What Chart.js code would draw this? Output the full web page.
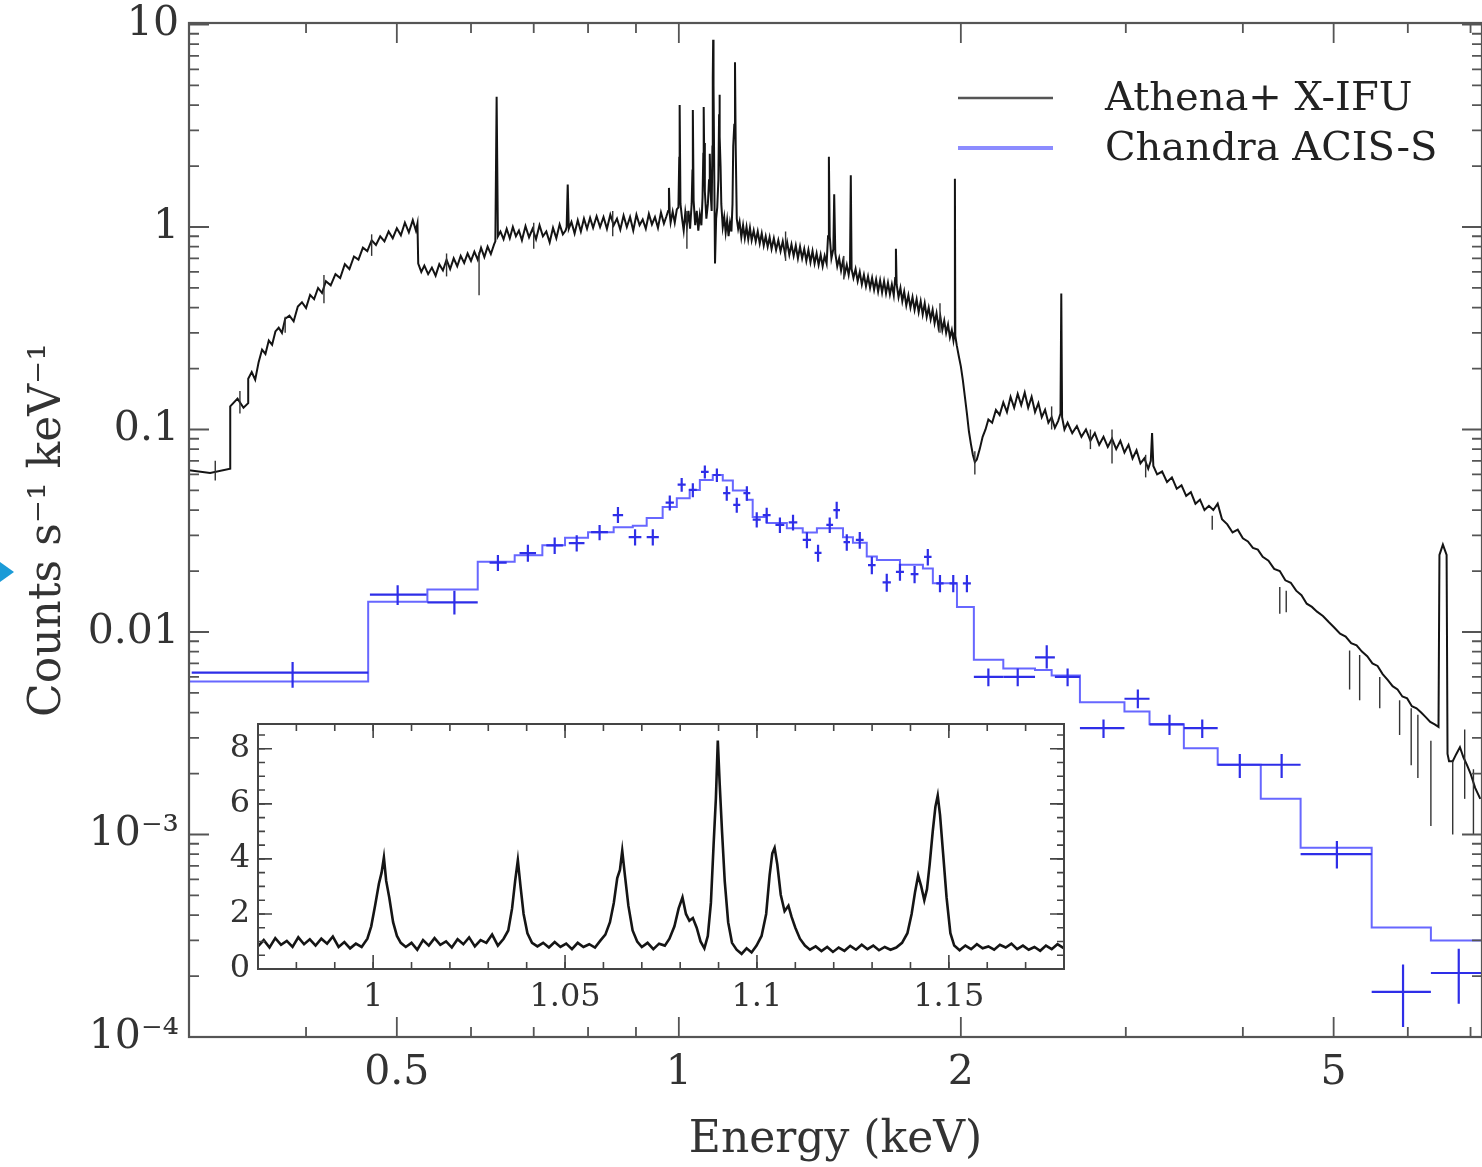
<!DOCTYPE html>
<html>
<head>
<meta charset="utf-8">
<script src="https://cdn.jsdelivr.net/npm/chart.js"></script>
<style>
  html, body { margin: 0; padding: 0; background: #fff; }
  #wrap { position: relative; width: 1482px; height: 1167px; overflow: hidden; }
  #mainChart { position: absolute; left: 0; top: 0; }
  #insetChart { position: absolute; left: 200px; top: 700px; }
  #marker { position: absolute; left: 0; top: 562px; width: 0; height: 0;
            border-top: 10px solid transparent; border-bottom: 10px solid transparent;
            border-left: 14px solid #1b9bd7; }
</style>
</head>
<body>
<div id="wrap">
  <canvas id="mainChart" width="1482" height="1167"></canvas>
  <canvas id="insetChart" width="880" height="330"></canvas>
  <div id="marker"></div>
</div>
<script>
// Athena+ X-IFU spectrum, energy (keV) and counts s^-1 keV^-1
const athenaE = [
  0.300, 0.316, 0.332, 0.332, 0.338, 0.343, 0.347, 0.347,
  0.350, 0.353, 0.356, 0.359, 0.362, 0.365, 0.368, 0.371, 0.374, 0.377,
  0.380, 0.384, 0.388, 0.392, 0.396, 0.400, 0.404, 0.408, 0.412, 0.416,
  0.420, 0.425, 0.430, 0.435, 0.440, 0.445, 0.450, 0.455, 0.460, 0.465,
  0.470, 0.475, 0.480, 0.485, 0.490, 0.495, 0.500, 0.505, 0.510, 0.515,
  0.520, 0.524, 0.526, 0.527, 0.531, 0.535, 0.540, 0.545, 0.550, 0.555,
  0.560, 0.565, 0.570, 0.575, 0.580, 0.585, 0.590, 0.595, 0.600, 0.605,
  0.610, 0.615, 0.620, 0.625, 0.630, 0.635, 0.637, 0.639, 0.641, 0.645,
  0.650, 0.655, 0.660, 0.665, 0.670, 0.675, 0.680, 0.686, 0.692, 0.698,
  0.704, 0.710, 0.716, 0.722, 0.728, 0.734, 0.740, 0.746, 0.752, 0.757,
  0.759, 0.761, 0.763, 0.768, 0.774, 0.780, 0.786, 0.792, 0.798, 0.804,
  0.810, 0.817, 0.824, 0.831, 0.838, 0.845, 0.852, 0.859, 0.866, 0.873,
  0.880, 0.887, 0.894, 0.901, 0.908, 0.915, 0.922, 0.929, 0.936, 0.943,
  0.950, 0.957, 0.964, 0.970, 0.974, 0.976, 0.978, 0.980, 0.985, 0.990,
  0.995, 0.999, 1.001, 1.002, 1.004, 1.008, 1.012, 1.016, 1.020, 1.024,
  1.028, 1.032, 1.034, 1.035, 1.037, 1.041, 1.045, 1.049, 1.053, 1.057,
  1.060, 1.062, 1.063, 1.064, 1.066, 1.070, 1.074, 1.077, 1.079, 1.081,
  1.084, 1.086, 1.087, 1.088, 1.089, 1.091, 1.093, 1.096, 1.099, 1.102,
  1.104, 1.105, 1.106, 1.108, 1.110, 1.114, 1.118, 1.122, 1.126, 1.130,
  1.134, 1.138, 1.141, 1.143, 1.146, 1.148, 1.150, 1.153, 1.157, 1.161,
  1.166, 1.171, 1.176, 1.181, 1.186, 1.191, 1.196, 1.202, 1.208, 1.214,
  1.220, 1.226, 1.232, 1.238, 1.244, 1.250, 1.256, 1.263, 1.270, 1.277,
  1.284, 1.291, 1.298, 1.305, 1.312, 1.319, 1.326, 1.333, 1.340, 1.347,
  1.354, 1.361, 1.368, 1.375, 1.382, 1.389, 1.396, 1.403, 1.410, 1.417,
  1.424, 1.431, 1.438, 1.443, 1.446, 1.449, 1.455, 1.462, 1.465, 1.469,
  1.476, 1.483, 1.490, 1.497, 1.504, 1.511, 1.518, 1.523, 1.526, 1.529,
  1.536, 1.544, 1.552, 1.560, 1.568, 1.576, 1.584, 1.592, 1.600, 1.608,
  1.616, 1.624, 1.632, 1.640, 1.648, 1.656, 1.664, 1.672, 1.680, 1.688,
  1.696, 1.702, 1.705, 1.708, 1.716, 1.724, 1.732, 1.740, 1.749, 1.758,
  1.767, 1.776, 1.785, 1.794, 1.803, 1.812, 1.821, 1.830, 1.839, 1.848,
  1.857, 1.866, 1.875, 1.884, 1.893, 1.902, 1.911, 1.920, 1.929, 1.938,
  1.947, 1.956, 1.964, 1.969, 1.971, 1.973, 1.980, 1.990, 2.000, 2.010,
  2.020, 2.030, 2.040, 2.050, 2.060, 2.070, 2.080, 2.095, 2.110, 2.125,
  2.140, 2.160, 2.180, 2.200, 2.220, 2.240, 2.260, 2.280, 2.300, 2.320,
  2.340, 2.360, 2.380, 2.400, 2.420, 2.440, 2.460, 2.480, 2.500, 2.520,
  2.540, 2.555, 2.560, 2.565, 2.580, 2.600, 2.630, 2.660, 2.690, 2.720,
  2.750, 2.780, 2.810, 2.840, 2.870, 2.900, 2.930, 2.960, 2.990, 3.020,
  3.050, 3.080, 3.110, 3.140, 3.170, 3.190, 3.200, 3.210, 3.240, 3.280,
  3.320, 3.360, 3.400, 3.440, 3.480, 3.520, 3.560, 3.600, 3.640, 3.680,
  3.720, 3.760, 3.800, 3.850, 3.900, 3.950, 4.000, 4.050, 4.100, 4.150,
  4.200, 4.260, 4.320, 4.380, 4.440, 4.500, 4.560, 4.620, 4.680, 4.740,
  4.800, 4.870, 4.940, 5.010, 5.080, 5.150, 5.220, 5.290, 5.360, 5.430,
  5.500, 5.570, 5.640, 5.710, 5.780, 5.850, 5.920, 5.990, 6.060, 6.130,
  6.200, 6.270, 6.340, 6.410, 6.470, 6.485, 6.540, 6.600, 6.615, 6.640,
  6.700, 6.760, 6.820, 6.880, 6.940, 7.000, 7.080, 7.170
];
const athenaRate = [
  0.063, 0.061, 0.064, 0.130, 0.142, 0.128, 0.135, 0.178,
  0.192, 0.176, 0.215, 0.248, 0.236, 0.275, 0.262, 0.305, 0.318, 0.300,
  0.352, 0.365, 0.342, 0.405, 0.425, 0.398, 0.462, 0.440, 0.500, 0.472,
  0.540, 0.515, 0.585, 0.560, 0.655, 0.620, 0.715, 0.690, 0.790, 0.760,
  0.860, 0.815, 0.900, 0.850, 0.950, 0.880, 0.985, 0.910, 1.050, 0.940,
  1.080, 0.960, 1.040, 0.660, 0.600, 0.645, 0.585, 0.630, 0.575, 0.655,
  0.610, 0.690, 0.620, 0.700, 0.640, 0.720, 0.665, 0.740, 0.680, 0.755,
  0.690, 0.790, 0.710, 0.800, 0.735, 0.820, 0.850, 4.400, 0.900, 0.950,
  0.870, 0.980, 0.880, 1.000, 0.900, 0.960, 0.860, 1.010, 0.890, 0.980,
  0.870, 1.020, 0.900, 0.950, 0.840, 0.990, 0.880, 1.030, 0.920, 0.960,
  1.000, 1.620, 0.980, 1.060, 0.930, 1.080, 0.950, 1.100, 0.980, 1.110,
  0.990, 1.130, 1.000, 1.120, 0.980, 1.150, 1.020, 1.100, 0.970, 1.140,
  1.000, 1.120, 0.960, 1.150, 1.020, 1.090, 0.980, 1.160, 1.030, 1.120,
  0.990, 1.180, 1.040, 1.130, 1.200, 1.560, 1.150, 1.050, 1.190, 1.050,
  1.220, 1.250, 2.200, 4.000, 1.300, 1.100, 0.960, 1.180, 1.020, 1.200,
  0.980, 1.300, 1.900, 3.780, 1.350, 1.020, 1.200, 0.960, 1.150, 1.020,
  1.400, 2.300, 3.910, 2.600, 1.500, 1.100, 1.300, 1.700, 2.300, 1.500,
  1.200, 2.500, 5.500, 8.400, 5.000, 1.800, 0.660, 1.100, 1.250, 1.700,
  3.600, 4.500, 2.800, 2.000, 1.300, 1.000, 1.120, 0.940, 1.080, 0.900,
  1.050, 0.950, 1.300, 2.500, 3.200, 6.500, 2.500, 1.100, 0.980, 1.060,
  0.890, 1.020, 0.880, 1.000, 0.870, 0.990, 0.860, 0.960, 0.850, 0.950,
  0.830, 0.930, 0.810, 0.900, 0.800, 0.890, 0.780, 0.880, 0.770, 0.860,
  0.760, 0.850, 0.740, 0.840, 0.730, 0.820, 0.720, 0.810, 0.700, 0.800,
  0.700, 0.780, 0.680, 0.770, 0.670, 0.760, 0.660, 0.740, 0.650, 0.730,
  0.640, 0.720, 0.660, 0.900, 2.220, 0.900, 0.700, 0.780, 1.450, 0.740,
  0.640, 0.700, 0.610, 0.680, 0.590, 0.650, 0.580, 0.640, 1.800, 0.620,
  0.560, 0.620, 0.540, 0.600, 0.520, 0.580, 0.510, 0.570, 0.500, 0.560,
  0.490, 0.550, 0.480, 0.545, 0.475, 0.540, 0.470, 0.530, 0.465, 0.520,
  0.460, 0.560, 0.780, 0.520, 0.450, 0.500, 0.430, 0.480, 0.410, 0.460,
  0.400, 0.450, 0.390, 0.440, 0.380, 0.430, 0.370, 0.420, 0.360, 0.400,
  0.350, 0.390, 0.335, 0.375, 0.320, 0.360, 0.310, 0.345, 0.300, 0.330,
  0.285, 0.310, 0.275, 0.300, 1.730, 0.290, 0.260, 0.230, 0.205, 0.175,
  0.145, 0.120, 0.098, 0.085, 0.075, 0.069, 0.071, 0.080, 0.092, 0.100,
  0.112, 0.108, 0.125, 0.118, 0.136, 0.122, 0.145, 0.128, 0.150, 0.132,
  0.152, 0.128, 0.145, 0.122, 0.135, 0.115, 0.125, 0.108, 0.115, 0.102,
  0.110, 0.120, 0.470, 0.115, 0.100, 0.108, 0.096, 0.104, 0.092, 0.100,
  0.088, 0.096, 0.084, 0.092, 0.082, 0.090, 0.080, 0.088, 0.077, 0.084,
  0.072, 0.079, 0.068, 0.072, 0.064, 0.070, 0.096, 0.066, 0.060, 0.062,
  0.055, 0.058, 0.051, 0.053, 0.047, 0.049, 0.043, 0.045, 0.040, 0.042,
  0.040, 0.043, 0.036, 0.034, 0.031, 0.032, 0.029, 0.028, 0.026, 0.0255,
  0.0235, 0.0225, 0.0205, 0.0200, 0.0180, 0.0175, 0.0160, 0.0152, 0.0138, 0.0133,
  0.0126, 0.0120, 0.0112, 0.0105, 0.0098, 0.0095, 0.0088, 0.0086, 0.0080, 0.0076,
  0.0070, 0.0068, 0.0062, 0.0058, 0.0054, 0.0052, 0.0048, 0.0047, 0.0043, 0.0042,
  0.0040, 0.0038, 0.0036, 0.0035, 0.0034, 0.0240, 0.0270, 0.0240, 0.0025, 0.0023,
  0.0023, 0.0025, 0.0027, 0.0024, 0.0022, 0.0020, 0.0017, 0.0015
];

// scattered Athena error bars (energy, lower, upper)
const athenaBarE = [0.320, 0.340, 0.380, 0.418, 0.470, 0.565, 0.612, 0.700, 0.850, 1.020,
  1.300, 1.500, 1.900, 2.070, 2.500, 2.750, 2.900, 3.150, 3.710, 4.380,
  4.450, 5.200, 5.330, 5.600, 5.880, 6.050, 6.150, 6.350, 6.700, 6.900, 7.050];
const athenaBarLo = [0.056, 0.120, 0.300, 0.420, 0.720, 0.570, 0.460, 0.780, 0.900, 0.780,
  0.680, 0.550, 0.300, 0.060, 0.100, 0.080, 0.068, 0.058, 0.032, 0.0123,
  0.0125, 0.0052, 0.0046, 0.0042, 0.0031, 0.0022, 0.0019, 0.0011, 0.0010, 0.0015, 0.0010];
const athenaBarHi = [0.070, 0.155, 0.360, 0.580, 0.920, 0.740, 0.750, 1.050, 1.200, 1.200,
  0.950, 0.720, 0.420, 0.078, 0.130, 0.100, 0.100, 0.075, 0.0375, 0.0167,
  0.0160, 0.0081, 0.0077, 0.0060, 0.0046, 0.0042, 0.0039, 0.0029, 0.0023, 0.0033, 0.0021];

// Chandra ACIS-S model: bin edges (keV) and level of each bin
const chandraEdges = [0.300, 0.466, 0.539, 0.610, 0.668, 0.715, 0.756, 0.800, 0.852, 0.893,
  0.924, 0.961, 0.995, 1.027, 1.053, 1.087, 1.114, 1.142, 1.182, 1.199,
  1.241, 1.304, 1.356, 1.404, 1.497, 1.534, 1.587, 1.627, 1.722, 1.822,
  1.867, 1.981, 2.065, 2.220, 2.400, 2.500, 2.680, 2.990, 3.180, 3.460,
  3.760, 4.180, 4.610, 5.490, 6.350, 7.200];
const chandraModel = [0.0057, 0.0141, 0.0162, 0.0222, 0.0239, 0.0268, 0.0292, 0.0311, 0.0329,
  0.0335, 0.0366, 0.0414, 0.0458, 0.0503, 0.0563, 0.0596, 0.0560, 0.0500, 0.0450,
  0.0370, 0.0345, 0.0325, 0.0310, 0.0325, 0.0294, 0.0276, 0.0236, 0.0227, 0.0215,
  0.0206, 0.0174, 0.0133, 0.0073, 0.0066, 0.0065, 0.0061, 0.0045, 0.00405, 0.0035,
  0.00267, 0.00221, 0.0015, 0.00086, 0.000347, 0.0003];

// Chandra ACIS-S data crosses
const chandraE = [0.387, 0.501, 0.576, 0.641, 0.690, 0.737, 0.778, 0.823, 0.861, 0.898,
  0.938, 0.978, 1.007, 1.035, 1.066, 1.098, 1.125, 1.153, 1.182, 1.211,
  1.241, 1.282, 1.324, 1.370, 1.408, 1.449, 1.474, 1.511, 1.560, 1.607,
  1.667, 1.722, 1.785, 1.844, 1.900, 1.963, 2.030, 2.140, 2.300, 2.470,
  2.600, 2.840, 3.090, 3.340, 3.620, 3.970, 4.400, 5.040, 5.930, 6.800];
const chandraRate = [0.0063, 0.0153, 0.0140, 0.0220, 0.0245, 0.0268, 0.0275, 0.0311, 0.0378, 0.0294,
  0.0294, 0.0435, 0.0534, 0.0503, 0.0618, 0.0596, 0.0485, 0.0424, 0.0485, 0.0359,
  0.0378, 0.0338, 0.0348, 0.0285, 0.0246, 0.0338, 0.0400, 0.0278, 0.0285, 0.0214,
  0.0176, 0.0198, 0.0193, 0.0235, 0.0174, 0.0174, 0.0174, 0.0060, 0.0060, 0.0075,
  0.0060, 0.00335, 0.00468, 0.0035, 0.00335, 0.00221, 0.00221, 0.00080, 0.000167, 0.000207];
const chandraELo = [0.302, 0.468, 0.539, 0.628, 0.676, 0.722, 0.763, 0.806, 0.850, 0.884,
  0.924, 0.968, 0.997, 1.025, 1.056, 1.088, 1.115, 1.143, 1.172, 1.199,
  1.229, 1.268, 1.310, 1.356, 1.396, 1.437, 1.462, 1.499, 1.545, 1.592,
  1.650, 1.705, 1.768, 1.827, 1.883, 1.945, 2.010, 2.065, 2.220, 2.400,
  2.520, 2.680, 2.990, 3.180, 3.460, 3.760, 4.180, 4.610, 5.490, 6.350];
const chandraEHi = [0.466, 0.538, 0.610, 0.655, 0.704, 0.752, 0.793, 0.840, 0.872, 0.912,
  0.952, 0.988, 1.017, 1.045, 1.076, 1.108, 1.135, 1.163, 1.192, 1.223,
  1.253, 1.296, 1.338, 1.384, 1.420, 1.461, 1.486, 1.523, 1.575, 1.622,
  1.684, 1.739, 1.802, 1.861, 1.917, 1.981, 2.050, 2.220, 2.400, 2.520,
  2.680, 2.990, 3.180, 3.460, 3.760, 4.180, 4.610, 5.490, 6.350, 7.400];
const chandraErrLo = [0.0053, 0.0136, 0.0122, 0.0200, 0.0222, 0.0243, 0.0250, 0.0284, 0.0345, 0.0267,
  0.0267, 0.0398, 0.0492, 0.0463, 0.0572, 0.0551, 0.0445, 0.0388, 0.0445, 0.0328,
  0.0345, 0.0308, 0.0317, 0.0259, 0.0222, 0.0308, 0.0362, 0.0252, 0.0258, 0.0193,
  0.0158, 0.0179, 0.0174, 0.0213, 0.0157, 0.0157, 0.0157, 0.0054, 0.0054, 0.0066,
  0.0054, 0.0030, 0.0042, 0.0031, 0.0030, 0.0019, 0.0019, 0.00068, 0.000112, 0.000146];
const chandraErrHi = [0.0071, 0.0170, 0.0160, 0.0240, 0.0270, 0.0293, 0.0300, 0.0338, 0.0414, 0.0322,
  0.0322, 0.0472, 0.0576, 0.0543, 0.0664, 0.0641, 0.0525, 0.0460, 0.0525, 0.0390,
  0.0411, 0.0368, 0.0379, 0.0311, 0.0270, 0.0368, 0.0440, 0.0304, 0.0312, 0.0235,
  0.0194, 0.0217, 0.0212, 0.0257, 0.0191, 0.0191, 0.0191, 0.0066, 0.0066, 0.0086,
  0.0066, 0.0037, 0.0052, 0.0039, 0.0037, 0.0025, 0.0025, 0.00093, 0.000228, 0.000273];

// inset: zoom on 0.97 - 1.18 keV
const insetE = [
  0.9700, 0.9715, 0.9730, 0.9745, 0.9760, 0.9775, 0.9790, 0.9805, 0.9820, 0.9835,
  0.9850, 0.9865, 0.9880, 0.9895, 0.9910, 0.9925, 0.9940, 0.9955, 0.9970,
  0.9985, 0.9995, 1.0005, 1.0015, 1.0022, 1.0028, 1.0034, 1.0042, 1.0052, 1.0062, 1.0072,
  1.0085, 1.0100, 1.0115, 1.0130, 1.0145, 1.0160, 1.0175, 1.0190, 1.0205, 1.0220,
  1.0235, 1.0250, 1.0265, 1.0280, 1.0295, 1.0310, 1.0325, 1.0340,
  1.0352, 1.0362, 1.0370, 1.0377, 1.0384, 1.0392, 1.0402, 1.0414,
  1.0428, 1.0443, 1.0458, 1.0473, 1.0488, 1.0503, 1.0518, 1.0533, 1.0548, 1.0563,
  1.0578, 1.0593,
  1.0605, 1.0617, 1.0627, 1.0636, 1.0643, 1.0649, 1.0656, 1.0665, 1.0676, 1.0688,
  1.0700, 1.0715, 1.0730, 1.0745, 1.0760,
  1.0772, 1.0785, 1.0796, 1.0806, 1.0815, 1.0824, 1.0833, 1.0843, 1.0853, 1.0863,
  1.0872, 1.0880, 1.0887, 1.0893, 1.0898, 1.0903, 1.0909, 1.0916, 1.0925, 1.0935,
  1.0947, 1.0960, 1.0973, 1.0986, 1.0999,
  1.1012, 1.1024, 1.1033, 1.1040, 1.1046, 1.1053, 1.1062, 1.1072, 1.1082, 1.1090, 1.1100, 1.1112, 1.1125,
  1.1138, 1.1153, 1.1168, 1.1183, 1.1198, 1.1213, 1.1228, 1.1243, 1.1258, 1.1273,
  1.1288, 1.1303, 1.1318, 1.1333, 1.1348, 1.1363, 1.1378,
  1.1392, 1.1403, 1.1412, 1.1420, 1.1428, 1.1436, 1.1443, 1.1450, 1.1458, 1.1465, 1.1471, 1.1477, 1.1485, 1.1494, 1.1504, 1.1514,
  1.1528, 1.1543, 1.1558, 1.1573, 1.1588, 1.1603, 1.1618, 1.1633, 1.1648, 1.1663,
  1.1678, 1.1693, 1.1708, 1.1723, 1.1738, 1.1753, 1.1768, 1.1783, 1.1800
];
const insetRate = [
  0.82, 1.05, 0.78, 1.12, 0.88, 1.02, 0.80, 1.15, 0.90, 1.08,
  0.85, 1.10, 0.92, 1.18, 0.80, 0.98, 0.75, 0.92, 0.80,
  1.10, 1.55, 2.30, 3.10, 3.50, 4.05, 3.20, 2.60, 1.70, 1.20, 0.95,
  0.80, 0.95, 0.70, 1.05, 0.85, 1.12, 0.88, 1.00, 0.78, 1.08,
  0.90, 1.15, 0.82, 1.05, 0.95, 1.25, 0.85, 1.10,
  1.40, 2.20, 3.20, 3.95, 3.00, 2.00, 1.30, 0.95,
  0.82, 0.95, 0.78, 0.98, 0.80, 0.92, 0.72, 0.95, 0.80, 0.90,
  0.78, 1.05,
  1.25, 1.70, 2.40, 3.30, 3.60, 4.30, 3.40, 2.30, 1.40, 1.00,
  0.80, 0.95, 0.72, 0.92, 0.85,
  1.10, 1.55, 2.20, 2.60, 2.00, 1.75, 1.85, 1.50, 1.00, 0.75,
  1.20, 2.40, 4.50, 6.20, 8.30, 6.70, 5.00, 3.20, 1.70, 0.95,
  0.70, 0.55, 0.75, 0.60, 0.85,
  1.20, 2.00, 3.40, 4.20, 4.40, 3.80, 2.70, 2.10, 2.30, 1.90, 1.50, 1.10, 0.85,
  0.70, 0.82, 0.65, 0.80, 0.62, 0.78, 0.66, 0.84, 0.70, 0.88,
  0.72, 0.85, 0.68, 0.80, 0.70, 0.78, 0.95,
  1.30, 2.00, 2.80, 3.40, 3.00, 2.50, 2.90, 3.80, 5.00, 5.90, 6.30, 5.60, 4.20, 2.60, 1.30, 0.85,
  0.68, 0.85, 0.72, 0.90, 0.75, 0.82, 0.70, 0.88, 0.78, 0.92,
  0.72, 0.85, 0.70, 0.80, 0.66, 0.85, 0.72, 0.90, 0.75
];

// axes
const xMajorTicks = [0.5, 1, 2, 5];
const xTickLabels = ['0.5', '1', '2', '5'];
const xMinorTicks = [0.3, 0.4, 0.6, 0.7, 0.8, 0.9, 3, 4, 6, 7];
const yMajorTicks = [1e-4, 1e-3, 0.01, 0.1, 1, 10];
const yTickLabels = ['10⁻⁴', '10⁻³', '0.01', '0.1', '1', '10'];
const insetXMajor = [1, 1.05, 1.1, 1.15];
const insetXLabels = ['1', '1.05', '1.1', '1.15'];
const insetYMajor = [0, 2, 4, 6, 8];
const insetYLabels = ['0', '2', '4', '6', '8'];

const FONT = 'DejaVu Serif';
Chart.defaults.font.family = FONT;
Chart.defaults.color = '#333';

const near = (a, b) => Math.abs(a - b) < 1e-9 * Math.max(1, Math.abs(b));

// minor ticks on the log y axis: 2..9 times each decade
const yMinorTicks = [];
for (let d = -4; d <= 0; d++) {
  for (let k = 2; k <= 9; k++) yMinorTicks.push(Number((k * Math.pow(10, d)).toPrecision(6)));
}

// inward ticks on all four sides plus frame
function frameTicks(id, o) {
  return {
    id: id,
    beforeDatasetsDraw(chart) {
      if (!o.fill) return;
      const a = chart.chartArea;
      chart.ctx.save();
      chart.ctx.fillStyle = '#fff';
      chart.ctx.fillRect(a.left, a.top, a.right - a.left, a.bottom - a.top);
      chart.ctx.restore();
    },
    afterDatasetsDraw(chart) {
      const { ctx, chartArea: a, scales: { x, y } } = chart;
      ctx.save();
      ctx.strokeStyle = o.color;
      ctx.lineWidth = o.tickWidth;
      const tick = (list, len, axis) => list.forEach(v => {
        ctx.beginPath();
        if (axis === 'x') {
          const p = x.getPixelForValue(v);
          if (p < a.left - 0.5 || p > a.right + 0.5) return;
          ctx.moveTo(p, a.bottom); ctx.lineTo(p, a.bottom - len);
          ctx.moveTo(p, a.top); ctx.lineTo(p, a.top + len);
        } else {
          const p = y.getPixelForValue(v);
          if (p < a.top - 0.5 || p > a.bottom + 0.5) return;
          ctx.moveTo(a.left, p); ctx.lineTo(a.left + len, p);
          ctx.moveTo(a.right, p); ctx.lineTo(a.right - len, p);
        }
        ctx.stroke();
      });
      tick(o.xMajor, o.majorLen, 'x');
      tick(o.xMinor, o.minorLen, 'x');
      tick(o.yMajor, o.majorLen, 'y');
      tick(o.yMinor, o.minorLen, 'y');
      ctx.lineWidth = o.frameWidth;
      ctx.strokeRect(a.left, a.top, a.right - a.left, a.bottom - a.top);
      ctx.restore();
    }
  };
}

const errorMarks = {
  id: 'errorMarks',
  afterDatasetsDraw(chart) {
    const { ctx, chartArea: a, scales: { x, y } } = chart;
    ctx.save();
    ctx.beginPath();
    ctx.rect(a.left, a.top, a.right - a.left, a.bottom - a.top);
    ctx.clip();
    ctx.strokeStyle = '#333';
    ctx.lineWidth = 1.4;
    athenaBarE.forEach((e, i) => {
      const px = x.getPixelForValue(e);
      ctx.beginPath();
      ctx.moveTo(px, y.getPixelForValue(athenaBarLo[i]));
      ctx.lineTo(px, y.getPixelForValue(athenaBarHi[i]));
      ctx.stroke();
    });
    ctx.strokeStyle = '#2e2ee8';
    ctx.lineWidth = 2.2;
    chandraE.forEach((e, i) => {
      const px = x.getPixelForValue(e);
      const py = y.getPixelForValue(chandraRate[i]);
      ctx.beginPath();
      ctx.moveTo(x.getPixelForValue(chandraELo[i]), py);
      ctx.lineTo(x.getPixelForValue(chandraEHi[i]), py);
      ctx.moveTo(px, y.getPixelForValue(chandraErrLo[i]));
      ctx.lineTo(px, y.getPixelForValue(chandraErrHi[i]));
      ctx.stroke();
    });
    ctx.restore();
  }
};

const legendBox = {
  id: 'legendBox',
  afterDraw(chart) {
    const ctx = chart.ctx;
    const a = chart.chartArea;
    const items = [
      { label: chart.data.datasets[0].label, color: '#555', width: 2.5 },
      { label: chart.data.datasets[1].label, color: '#8c8cff', width: 4 }
    ];
    ctx.save();
    ctx.font = '40px "' + FONT + '"';
    ctx.textBaseline = 'middle';
    ctx.fillStyle = '#222';
    items.forEach((it, i) => {
      const ly = a.top + 75 + i * 50;
      ctx.strokeStyle = it.color;
      ctx.lineWidth = it.width;
      ctx.beginPath();
      ctx.moveTo(a.right - 524, ly);
      ctx.lineTo(a.right - 429, ly);
      ctx.stroke();
      ctx.fillText(it.label, a.right - 377, ly + 2);
    });
    ctx.restore();
  }
};

// step line points for the Chandra model
const modelPoints = [];
chandraModel.forEach((m, i) => {
  modelPoints.push({ x: chandraEdges[i], y: m });
  modelPoints.push({ x: chandraEdges[i + 1], y: m });
});

new Chart(document.getElementById('mainChart'), {
  type: 'line',
  data: {
    datasets: [
      {
        label: 'Athena+ X-IFU',
        data: athenaE.map((e, i) => ({ x: e, y: athenaRate[i] })),
        borderColor: '#141414',
        borderWidth: 2,
        pointRadius: 0,
        tension: 0
      },
      {
        label: 'Chandra ACIS-S',
        data: modelPoints,
        borderColor: '#6767ff',
        borderWidth: 2,
        pointRadius: 0,
        tension: 0
      }
    ]
  },
  options: {
    responsive: false,
    animation: false,
    devicePixelRatio: 1,
    layout: { padding: { left: 0, top: 23, right: 0, bottom: 0 } },
    plugins: { legend: { display: false }, tooltip: { enabled: false } },
    scales: {
      x: {
        type: 'logarithmic',
        min: 0.3,
        max: 7.2,
        grid: { display: false, drawTicks: false },
        border: { display: false },
        ticks: {
          autoSkip: false, maxRotation: 0, minRotation: 0, padding: 12,
          font: { size: 41 }, color: '#333',
          callback: v => {
            const i = xMajorTicks.findIndex(m => near(m, v));
            return i >= 0 ? xTickLabels[i] : '';
          }
        },
        afterBuildTicks: s => {
          s.ticks = xMajorTicks.concat(xMinorTicks).sort((p, q) => p - q).map(v => ({ value: v }));
        },
        afterFit: s => { s.height = 130; s.paddingLeft = 0; s.paddingRight = 0; },
        title: { display: true, text: 'Energy (keV)', font: { size: 44 }, color: '#333', padding: { top: 0, bottom: 0 } }
      },
      y: {
        type: 'logarithmic',
        min: 1e-4,
        max: 10.17,
        grid: { display: false, drawTicks: false },
        border: { display: false },
        ticks: {
          autoSkip: false, padding: 10,
          font: { size: 41 }, color: '#333',
          callback: v => {
            const i = yMajorTicks.findIndex(m => near(m, v));
            return i >= 0 ? yTickLabels[i] : '';
          }
        },
        afterBuildTicks: s => {
          s.ticks = yMajorTicks.concat(yMinorTicks).sort((p, q) => p - q).map(v => ({ value: v }));
        },
        afterFit: s => { s.width = 189; s.paddingTop = 0; s.paddingBottom = 0; },
        title: { display: true, text: 'Counts s⁻¹ keV⁻¹', font: { size: 44 }, color: '#333', padding: { top: 22, bottom: 0 } }
      }
    }
  },
  plugins: [
    errorMarks,
    frameTicks('mainFrame', {
      xMajor: xMajorTicks, xMinor: xMinorTicks, yMajor: yMajorTicks, yMinor: yMinorTicks,
      majorLen: 20, minorLen: 10, tickWidth: 1.8, frameWidth: 2.2, color: '#555', fill: false
    }),
    legendBox
  ]
});

// inset tick positions
const insetXMinor = [];
for (let i = 0; i <= 21; i++) insetXMinor.push(Math.round((0.97 + i * 0.01) * 1000) / 1000);
const insetYMinor = [];
for (let i = 0; i <= 17; i++) insetYMinor.push(i * 0.5);

new Chart(document.getElementById('insetChart'), {
  type: 'line',
  data: {
    datasets: [{
      label: 'Athena+ X-IFU (zoom)',
      data: insetE.map((e, i) => ({ x: e, y: insetRate[i] })),
      borderColor: '#151515',
      borderWidth: 2.6,
      pointRadius: 0,
      tension: 0
    }]
  },
  options: {
    responsive: false,
    animation: false,
    devicePixelRatio: 1,
    layout: { padding: { left: 0, top: 24, right: 16, bottom: 0 } },
    plugins: { legend: { display: false }, tooltip: { enabled: false } },
    scales: {
      x: {
        type: 'linear',
        min: 0.97,
        max: 1.18,
        grid: { display: false, drawTicks: false },
        border: { display: false },
        ticks: {
          autoSkip: false, maxRotation: 0, minRotation: 0, padding: 9,
          font: { size: 32 }, color: '#333',
          callback: v => {
            const i = insetXMajor.findIndex(m => Math.abs(m - v) < 1e-6);
            return i >= 0 ? insetXLabels[i] : '';
          }
        },
        afterBuildTicks: s => { s.ticks = insetXMinor.map(v => ({ value: v })); },
        afterFit: s => { s.height = 61; s.paddingLeft = 0; s.paddingRight = 0; }
      },
      y: {
        type: 'linear',
        min: 0,
        max: 8.9,
        grid: { display: false, drawTicks: false },
        border: { display: false },
        ticks: {
          autoSkip: false, padding: 8,
          font: { size: 32 }, color: '#333',
          callback: v => {
            const i = insetYMajor.findIndex(m => Math.abs(m - v) < 1e-6);
            return i >= 0 ? insetYLabels[i] : '';
          }
        },
        afterBuildTicks: s => { s.ticks = insetYMinor.map(v => ({ value: v })); },
        afterFit: s => { s.width = 58; s.paddingTop = 0; s.paddingBottom = 0; }
      }
    }
  },
  plugins: [
    frameTicks('insetFrame', {
      xMajor: insetXMajor, xMinor: insetXMinor, yMajor: insetYMajor, yMinor: insetYMinor,
      majorLen: 14, minorLen: 7, tickWidth: 1.6, frameWidth: 2, color: '#444', fill: true
    })
  ]
});
</script>
</body>
</html>
